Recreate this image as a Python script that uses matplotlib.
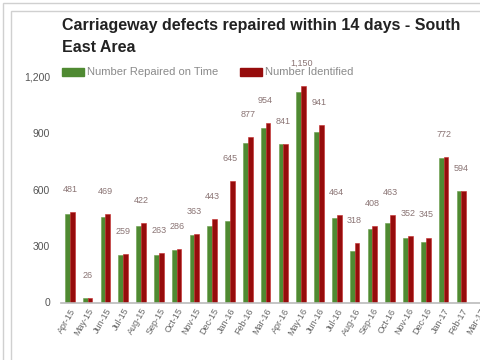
import matplotlib
matplotlib.use("Agg")
import matplotlib.pyplot as plt
from matplotlib.patches import Rectangle
import numpy as np

months = ["Apr-15", "May-15", "Jun-15", "Jul-15", "Aug-15", "Sep-15", "Oct-15",
          "Nov-15", "Dec-15", "Jan-16", "Feb-16", "Mar-16", "Apr-16", "May-16",
          "Jun-16", "Jul-16", "Aug-16", "Sep-16", "Oct-16", "Nov-16", "Dec-16",
          "Jan-17", "Feb-17", "Mar-17"]
repaired_on_time = [470, 26, 452, 250, 405, 252, 278, 360, 405, 435, 845, 925,
                    841, 1120, 905, 450, 276, 392, 420, 345, 322, 765, 594, None]
identified = [481, 26, 469, 259, 422, 263, 286, 363, 443, 645, 877, 954,
              841, 1150, 941, 464, 318, 408, 463, 352, 345, 772, 594, None]
y_ticks = [0, 300, 600, 900, 1200]
y_tick_labels = ["0", "300", "600", "900", "1,200"]

GREEN = "#4f8a32"
RED = "#960c0c"

plt.rcParams["font.family"] = ["Liberation Sans", "DejaVu Sans"]

W, H = 481, 360
fig = plt.figure(figsize=(W / 100, H / 100), dpi=100)
fig.patch.set_facecolor("white")

# panel frame lines
for off in (3, 11):
    fig.patches.append(Rectangle((off / W, -0.1), 1.2, (H - off) / H + 0.1,
                                 transform=fig.transFigure, fill=False,
                                 edgecolor="#d0d0d0", linewidth=1.0))

ax_left, ax_right = 61, 488
ax_bottom, ax_top = H - 302.5, H - 76.5
ax = fig.add_axes([ax_left / W, ax_bottom / H, (ax_right - ax_left) / W,
                   (ax_top - ax_bottom) / H])

x = np.arange(len(months))
bw = 0.27
g_vals = np.array([np.nan if v is None else v for v in repaired_on_time], float)
r_vals = np.array([np.nan if v is None else v for v in identified], float)
ax.bar(x - bw / 2, g_vals, width=bw, color=GREEN, edgecolor="#6a9e4a",
       linewidth=0.4, zorder=2)
ax.bar(x + bw / 2, r_vals, width=bw, color=RED, edgecolor="#c42a2a",
       linewidth=0.4, zorder=2)

# value labels above each pair
for xi, v in zip(x, identified):
    if v is None:
        continue
    txt = f"{v:,}"
    ax.annotate(txt, (xi, v), xytext=(0, 13), textcoords="offset points",
                ha="center", va="bottom", fontsize=6.5, color="#8a7474",
                annotation_clip=False, zorder=3)

ax.set_xlim(-0.5, len(months) - 0.5)
ax.set_ylim(0, 1200)
ax.set_yticks(y_ticks)
ax.set_yticklabels(y_tick_labels, fontsize=7.5, color="#555555")
ax.set_xticks(x)
ax.set_xticklabels(months, rotation=60, ha="right", rotation_mode="anchor",
                   fontsize=6.5, color="#666666")
ax.tick_params(axis="both", length=0, pad=3)
ax.tick_params(axis="y", pad=8)
for s in ("top", "right", "left"):
    ax.spines[s].set_visible(False)
ax.spines["bottom"].set_color("#bbbbbb")
ax.spines["bottom"].set_linewidth(1.2)
ax.set_facecolor("none")

# title
fig.text(62 / W, 1 - 30 / H, "Carriageway defects repaired within 14 days - South",
         fontsize=11.5, fontweight="bold", color="#222222", ha="left", va="baseline")
fig.text(62 / W, 1 - 52 / H, "East Area",
         fontsize=11.5, fontweight="bold", color="#222222", ha="left", va="baseline")

# legend
fig.patches.append(Rectangle((62 / W, 1 - 76 / H), 22 / W, 8 / H,
                             transform=fig.transFigure, color=GREEN))
fig.text(87 / W, 1 - 72 / H, "Number Repaired on Time", fontsize=8,
         color="#8a8a8a", ha="left", va="center")
fig.patches.append(Rectangle((240 / W, 1 - 76 / H), 22 / W, 8 / H,
                             transform=fig.transFigure, color=RED))
fig.text(265 / W, 1 - 72 / H, "Number Identified", fontsize=8,
         color="#8a8a8a", ha="left", va="center")

fig.savefig("out.png", dpi=100, facecolor="white")
